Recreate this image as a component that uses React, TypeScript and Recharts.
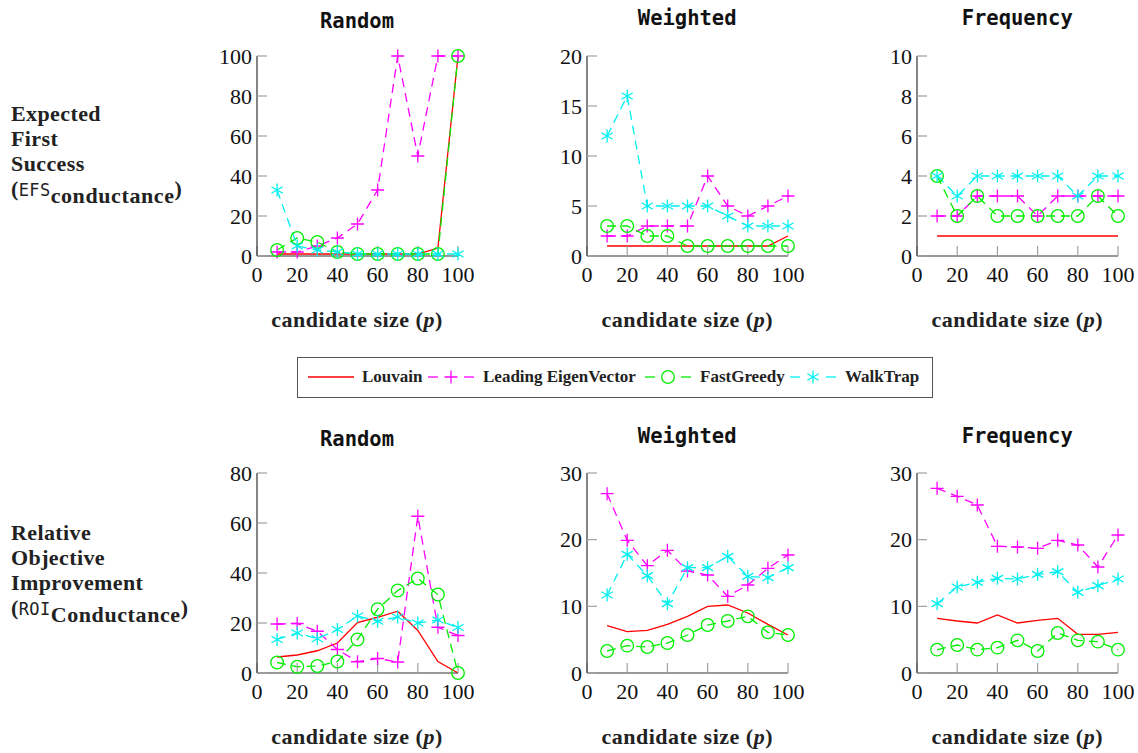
import React from 'react';
import { LineChart, Line, XAxis, YAxis } from 'recharts';

const candidateSizes = [10, 20, 30, 40, 50, 60, 70, 80, 90, 100];
const xTicks = [0, 20, 40, 60, 80, 100];

// Expected First Success (EFS conductance)
const efsRandomLouvain = [1, 1, 1, 1, 1, 1, 1, 1, 4, 100];
const efsRandomLeading = [2, 2, 5, 9, 16, 33, 100, 50, 100, 100];
const efsRandomFastGreedy = [3, 9, 7, 2, 1, 1, 1, 1, 1, 100];
const efsRandomWalkTrap = [33, 5, 3, 2, 1, 1, 1, 1, 1, 1];

const efsWeightedLouvain = [1, 1, 1, 1, 1, 1, 1, 1, 1, 2];
const efsWeightedLeading = [2, 2, 3, 3, 3, 8, 5, 4, 5, 6];
const efsWeightedFastGreedy = [3, 3, 2, 2, 1, 1, 1, 1, 1, 1];
const efsWeightedWalkTrap = [12, 16, 5, 5, 5, 5, 4, 3, 3, 3];

const efsFrequencyLouvain = [1, 1, 1, 1, 1, 1, 1, 1, 1, 1];
const efsFrequencyLeading = [2, 2, 3, 3, 3, 2, 3, 3, 3, 3];
const efsFrequencyFastGreedy = [4, 2, 3, 2, 2, 2, 2, 2, 3, 2];
const efsFrequencyWalkTrap = [4, 3, 4, 4, 4, 4, 4, 3, 4, 4];

// Relative Objective Improvement (ROI conductance)
const roiRandomLouvain = [6.4, 7.2, 8.9, 12, 20.2, 22.3, 24.7, 17, 4.6, 0];
const roiRandomLeading = [19.6, 19.8, 16.7, 9.4, 4.5, 5.8, 4.4, 62.7, 18.3, 15];
const roiRandomFastGreedy = [4.2, 2.5, 2.8, 4.6, 13.4, 25.5, 33, 37.8, 31.4, 0];
const roiRandomWalkTrap = [13.4, 16, 13.7, 17.4, 22.8, 20.7, 22.4, 20, 21.2, 18.2];

const roiWeightedLouvain = [7.1, 6.2, 6.4, 7.3, 8.5, 10, 10.2, 9, 7.3, 5.7];
const roiWeightedLeading = [26.9, 19.9, 16.1, 18.4, 15.3, 14.7, 11.5, 13.2, 15.7, 17.7];
const roiWeightedFastGreedy = [3.3, 4.1, 3.9, 4.5, 5.7, 7.2, 7.8, 8.5, 6.1, 5.7];
const roiWeightedWalkTrap = [11.7, 17.8, 14.6, 10.4, 15.8, 15.8, 17.5, 14.5, 14.3, 15.8];

const roiFrequencyLouvain = [8.2, 7.8, 7.5, 8.7, 7.5, 7.9, 8.2, 5.8, 5.8, 6.1];
const roiFrequencyLeading = [27.7, 26.5, 25.2, 19, 18.9, 18.7, 19.9, 19.2, 15.9, 20.7];
const roiFrequencyFastGreedy = [3.5, 4.2, 3.5, 3.8, 4.9, 3.3, 6, 4.9, 4.7, 3.5];
const roiFrequencyWalkTrap = [10.4, 12.9, 13.6, 14.2, 14.1, 14.8, 15.2, 12.1, 13.1, 14.1];

type MarkerKind = 'none' | 'plus' | 'circle' | 'star';

const SERIES: { key: string; name: string; color: string; dash?: string; marker: MarkerKind }[] = [
  { key: 'louvain', name: 'Louvain', color: '#ff0000', marker: 'none' },
  { key: 'leading', name: 'Leading EigenVector', color: '#ff00ff', dash: '9 6', marker: 'plus' },
  { key: 'fastGreedy', name: 'FastGreedy', color: '#00ee00', dash: '9 6', marker: 'circle' },
  { key: 'walkTrap', name: 'WalkTrap', color: '#00f0f0', dash: '9 6', marker: 'star' },
];

const rowsOf = (a: number[], b: number[], c: number[], d: number[]) =>
  candidateSizes.map((p, i) => ({ p, louvain: a[i], leading: b[i], fastGreedy: c[i], walkTrap: d[i] }));

const SERIF = "'Liberation Serif', 'Times New Roman', serif";
const MONO = "'DejaVu Sans Mono', monospace";

const PLOT_W = 201;
const PLOT_H = 200;
const Y_W = 70;
const M_TOP = 20;
const M_RIGHT = 30;
const X_H = 40;

const PANELS = [
  { title: 'Random', axisX: 256.5, plotTop: 56, titleY: 21, yMax: 100, yTicks: [0, 20, 40, 60, 80, 100],
    data: rowsOf(efsRandomLouvain, efsRandomLeading, efsRandomFastGreedy, efsRandomWalkTrap) },
  { title: 'Weighted', axisX: 586.7, plotTop: 56, titleY: 18, yMax: 20, yTicks: [0, 5, 10, 15, 20],
    data: rowsOf(efsWeightedLouvain, efsWeightedLeading, efsWeightedFastGreedy, efsWeightedWalkTrap) },
  { title: 'Frequency', axisX: 916.7, plotTop: 56, titleY: 18, yMax: 10, yTicks: [0, 2, 4, 6, 8, 10],
    data: rowsOf(efsFrequencyLouvain, efsFrequencyLeading, efsFrequencyFastGreedy, efsFrequencyWalkTrap) },
  { title: 'Random', axisX: 256.5, plotTop: 473, titleY: 439, yMax: 80, yTicks: [0, 20, 40, 60, 80],
    data: rowsOf(roiRandomLouvain, roiRandomLeading, roiRandomFastGreedy, roiRandomWalkTrap) },
  { title: 'Weighted', axisX: 586.7, plotTop: 473, titleY: 436, yMax: 30, yTicks: [0, 10, 20, 30],
    data: rowsOf(roiWeightedLouvain, roiWeightedLeading, roiWeightedFastGreedy, roiWeightedWalkTrap) },
  { title: 'Frequency', axisX: 916.7, plotTop: 473, titleY: 436, yMax: 30, yTicks: [0, 10, 20, 30],
    data: rowsOf(roiFrequencyLouvain, roiFrequencyLeading, roiFrequencyFastGreedy, roiFrequencyWalkTrap) },
];

function Marker({ kind, cx, cy, color }: { kind: MarkerKind; cx: number; cy: number; color: string }) {
  const sw = 1.3;
  if (kind === 'plus') {
    return <path d={`M${cx - 6.5},${cy}H${cx + 6.5}M${cx},${cy - 6.5}V${cy + 6.5}`} stroke={color} strokeWidth={sw} fill="none" />;
  }
  if (kind === 'circle') {
    return <circle cx={cx} cy={cy} r={6.3} stroke={color} strokeWidth={sw} fill="none" />;
  }
  if (kind === 'star') {
    const r = 6.5;
    const dx = r * Math.cos(Math.PI / 6);
    const dy = r * Math.sin(Math.PI / 6);
    return (
      <path
        d={`M${cx},${cy - r}V${cy + r}M${cx - dx},${cy - dy}L${cx + dx},${cy + dy}M${cx - dx},${cy + dy}L${cx + dx},${cy - dy}`}
        stroke={color}
        strokeWidth={sw}
        fill="none"
      />
    );
  }
  return null;
}

// tick labels drawn by hand so the serif font sticks
const xTick = (props: any) => (
  <text x={props.x} y={props.y} dy={15.5} textAnchor="middle" fill="#111" style={{ fontFamily: SERIF, fontSize: 22 }}>
    {props.payload.value}
  </text>
);
const yTick = (props: any) => (
  <text x={props.x} y={props.y} dy={7.5} textAnchor="end" fill="#111" style={{ fontFamily: SERIF, fontSize: 22 }}>
    {props.payload.value}
  </text>
);

function Panel({ panel }: { panel: (typeof PANELS)[number] }) {
  const { title, axisX, plotTop, titleY, yMax, yTicks, data } = panel;
  return (
    <>
      <div
        style={{
          position: 'absolute', left: axisX - 60, width: PLOT_W + 120, top: titleY - 12, lineHeight: '24px',
          textAlign: 'center', fontFamily: MONO, fontWeight: 'bold', fontSize: 20.5, color: '#111',
        }}
      >
        {title}
      </div>
      <div style={{ position: 'absolute', left: axisX - Y_W, top: plotTop - M_TOP }}>
        <LineChart
          width={Y_W + PLOT_W + M_RIGHT}
          height={M_TOP + PLOT_H + X_H}
          data={data}
          margin={{ top: M_TOP, right: M_RIGHT, left: 0, bottom: 0 }}
        >
          <XAxis
            dataKey="p"
            type="number"
            domain={[0, 100]}
            ticks={xTicks}
            interval={0}
            height={X_H}
            tickSize={-10}
            tickMargin={20}
            tickLine={{ stroke: '#a0a0a0', strokeWidth: 1.2 }}
            axisLine={{ stroke: '#333', strokeWidth: 1.2 }}
            tick={xTick}
          />
          <YAxis
            type="number"
            domain={[0, yMax]}
            ticks={yTicks}
            interval={0}
            width={Y_W}
            tickSize={-10}
            tickMargin={15}
            tickLine={{ stroke: '#a0a0a0', strokeWidth: 1.2 }}
            axisLine={{ stroke: '#333', strokeWidth: 1.2 }}
            tick={yTick}
          />
          {SERIES.map(s => (
            <Line
              key={s.key}
              type="linear"
              dataKey={s.key}
              name={s.name}
              stroke={s.color}
              strokeWidth={1.3}
              strokeDasharray={s.dash}
              activeDot={false}
              isAnimationActive={false}
              dot={(props: any) => (
                <g key={`${s.key}-${props.index}`}>
                  <Marker kind={s.marker} cx={props.cx} cy={props.cy} color={s.color} />
                </g>
              )}
            />
          ))}
        </LineChart>
      </div>
      <div
        style={{
          position: 'absolute', left: axisX - 60, width: PLOT_W + 120, top: plotTop + PLOT_H + 51, lineHeight: '26px',
          textAlign: 'center', fontFamily: SERIF, fontWeight: 'bold', fontSize: 22, letterSpacing: 0.5, color: '#222',
        }}
      >
        candidate size (<i>p</i>)
      </div>
    </>
  );
}

function LegendIcon({ s }: { s: (typeof SERIES)[number] }) {
  const w = 46;
  return (
    <svg width={w} height={20} style={{ position: 'absolute', top: 9 }}>
      {s.dash ? (
        <>
          <line x1={0} y1={10} x2={10} y2={10} stroke={s.color} strokeWidth={1.3} />
          <line x1={w - 10} y1={10} x2={w} y2={10} stroke={s.color} strokeWidth={1.3} />
        </>
      ) : (
        <line x1={0} y1={10} x2={w} y2={10} stroke={s.color} strokeWidth={1.3} />
      )}
      <Marker kind={s.marker} cx={w / 2} cy={10} color={s.color} />
    </svg>
  );
}

const LEGEND_POS = [
  { icon: 10, text: 64 },
  { icon: 130, text: 185 },
  { icon: 347, text: 402 },
  { icon: 492, text: 547 },
];

function RowLabel({ top, lines, abbr, sub }: { top: number; lines: string[]; abbr: string; sub: string }) {
  return (
    <div
      style={{
        position: 'absolute', left: 11, top, fontFamily: SERIF, fontWeight: 'bold', fontSize: 22,
        letterSpacing: 0.4, lineHeight: '25px', color: '#222',
      }}
    >
      {lines.map(l => (
        <div key={l}>{l}</div>
      ))}
      <div>
        (<span style={{ fontFamily: MONO, fontWeight: 'normal', fontSize: 17 }}>{abbr}</span>
        <span style={{ position: 'relative', top: 7, letterSpacing: 0.6 }}>{sub}</span>)
      </div>
    </div>
  );
}

export default function App() {
  return (
    <div style={{ position: 'absolute', left: 0, top: 0, width: 1138, height: 753, background: '#fff', overflow: 'hidden' }}>
      <RowLabel top={101} lines={['Expected', 'First', 'Success']} abbr="EFS" sub="conductance" />
      <RowLabel top={520} lines={['Relative', 'Objective', 'Improvement']} abbr="ROI" sub="Conductance" />
      {PANELS.map((p, i) => (
        <Panel key={i} panel={p} />
      ))}
      <div
        style={{
          position: 'absolute', left: 297, top: 357, width: 634, height: 39, border: '1px solid #555',
          fontFamily: SERIF, fontWeight: 'bold', fontSize: 17, color: '#222',
        }}
      >
        {SERIES.map((s, i) => (
          <React.Fragment key={s.key}>
            <div style={{ position: 'absolute', left: LEGEND_POS[i].icon, top: 0 }}>
              <LegendIcon s={s} />
            </div>
            <div style={{ position: 'absolute', left: LEGEND_POS[i].text, top: 9, lineHeight: '20px' }}>{s.name}</div>
          </React.Fragment>
        ))}
      </div>
    </div>
  );
}
